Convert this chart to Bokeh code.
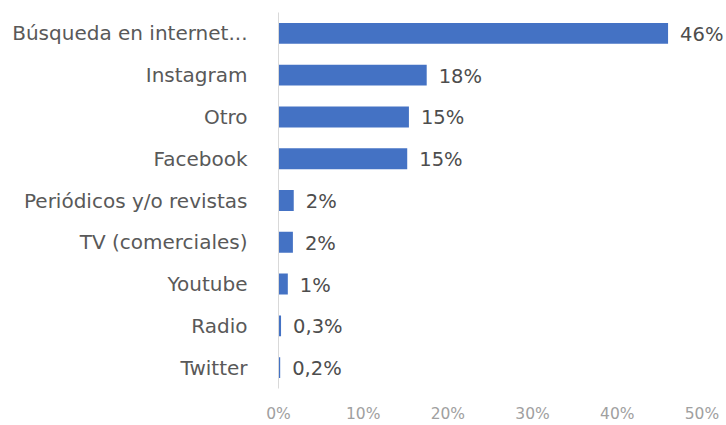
from bokeh.plotting import figure
from bokeh.models import FactorRange, FixedTicker, ColumnDataSource
from bokeh.core.properties import value
from bokeh.embed import file_html
from bokeh.resources import INLINE

categories = ["Búsqueda en internet...", "Instagram", "Otro", "Facebook",
              "Periódicos y/o revistas", "TV (comerciales)", "Youtube", "Radio", "Twitter"]
values = [46.0, 17.5, 15.4, 15.2, 1.8, 1.7, 1.1, 0.3, 0.2]
value_labels = ["46%", "18%", "15%", "15%", "2%", "2%", "1%", "0,3%", "0,2%"]
x_ticks = [0, 10, 20, 30, 40, 50]
x_tick_labels = ["0%", "10%", "20%", "30%", "40%", "50%"]

FONT = "DejaVu Sans"

src = ColumnDataSource(dict(cat=categories, val=values, lab=value_labels))

p = figure(width=726, height=425, output_backend="svg", toolbar_location=None,
           y_range=FactorRange(factors=list(reversed(categories))),
           x_range=(0, 52.9),
           min_border_left=278, min_border_right=0,
           min_border_top=12, min_border_bottom=34)

p.hbar(y="cat", right="val", left=0, height=0.5, source=src,
       fill_color="#4472C4", line_color=None)

p.text(x="val", y="cat", text="lab", source=src, x_offset=12, y_offset=1,
       text_baseline="middle", text_align="left",
       text_font=value(FONT), text_font_size="19.5px", text_color="#4D4D4D")

p.outline_line_color = None
p.xgrid.grid_line_color = None
p.ygrid.grid_line_color = None
p.background_fill_color = "white"
p.border_fill_color = "white"

# y axis
p.yaxis.axis_line_color = "#D9D9D9"
p.yaxis.major_tick_line_color = None
p.yaxis.minor_tick_line_color = None
p.yaxis.major_label_text_font = FONT
p.yaxis.major_label_text_font_size = "20px"
p.yaxis.major_label_text_color = "#595959"
p.yaxis.major_label_standoff = 25

# x axis
p.xaxis.ticker = FixedTicker(ticks=x_ticks)
p.xaxis.major_label_overrides = {t: l for t, l in zip(x_ticks, x_tick_labels)}
p.xaxis.axis_line_color = None
p.xaxis.major_tick_line_color = None
p.xaxis.minor_tick_line_color = None
p.xaxis.major_label_text_font = FONT
p.xaxis.major_label_text_font_size = "15.5px"
p.xaxis.major_label_text_color = "#A0A0A0"
p.xaxis.major_label_standoff = 10

open("out.html", "w").write(file_html(p, INLINE))
